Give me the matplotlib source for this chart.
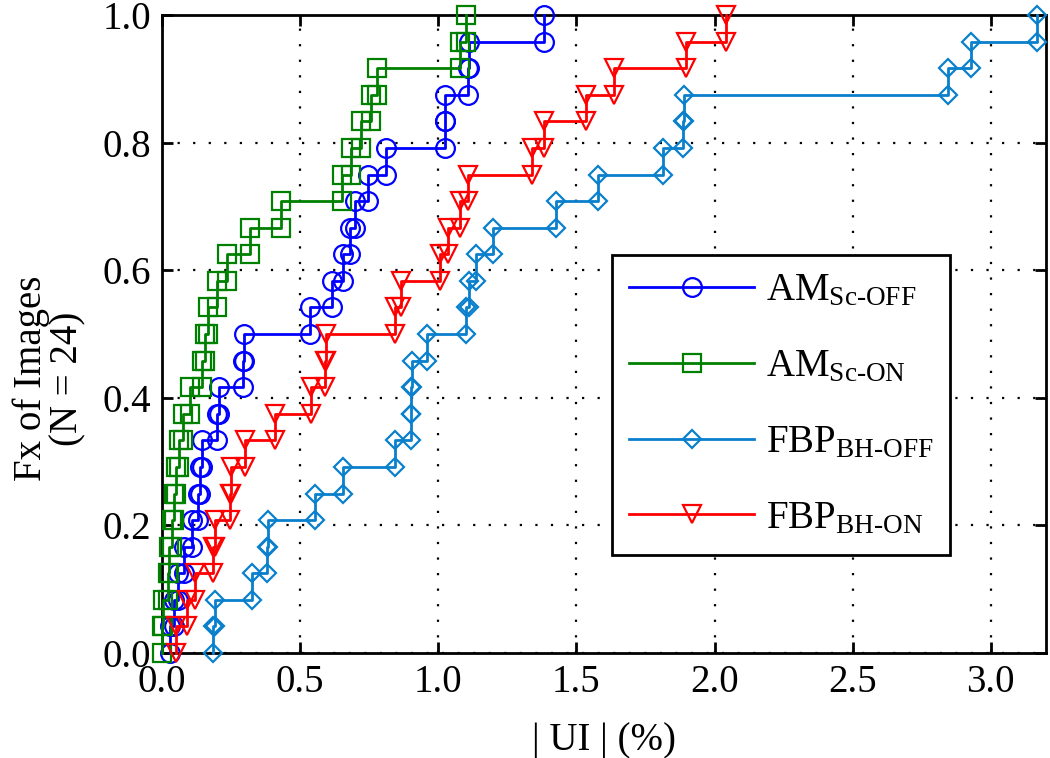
import matplotlib
matplotlib.use('Agg')
import matplotlib.pyplot as plt
import numpy as np

# sorted |UI| values (%) for the 24 images
am_sc_off  = [0.03, 0.045, 0.058, 0.08, 0.11, 0.13, 0.137, 0.143, 0.2, 0.205, 0.293, 0.297,
              0.535, 0.615, 0.655, 0.68, 0.70, 0.745, 0.81, 1.023, 1.025, 1.107, 1.113, 1.384]
am_sc_on   = [0.0, 0.005, 0.02, 0.025, 0.035, 0.045, 0.05, 0.06, 0.075, 0.1, 0.143, 0.155,
              0.165, 0.2, 0.235, 0.32, 0.43, 0.65, 0.685, 0.72, 0.755, 0.78, 1.077, 1.10]
fbp_bh_off = [0.186, 0.19, 0.324, 0.38, 0.385, 0.553, 0.654, 0.842, 0.9, 0.903, 0.906, 0.96,
              1.10, 1.11, 1.137, 1.197, 1.426, 1.577, 1.812, 1.885, 1.89, 2.845, 2.93, 3.167]
fbp_bh_on  = [0.05, 0.09, 0.12, 0.185, 0.19, 0.245, 0.25, 0.3, 0.408, 0.54, 0.59, 0.595,
              0.845, 0.866, 1.005, 1.034, 1.08, 1.107, 1.341, 1.384, 1.535, 1.637, 1.896, 2.04]

labels = [r'AM$_{\text{Sc-OFF}}$', r'AM$_{\text{Sc-ON}}$',
          r'FBP$_{\text{BH-OFF}}$', r'FBP$_{\text{BH-ON}}$']
x_ticks = [0.0, 0.5, 1.0, 1.5, 2.0, 2.5, 3.0]
y_ticks = [0.0, 0.2, 0.4, 0.6, 0.8, 1.0]

plt.rcParams['font.family'] = ['Liberation Serif', 'DejaVu Serif']
plt.rcParams['mathtext.fontset'] = 'custom'
plt.rcParams['mathtext.rm'] = 'Liberation Serif'
plt.rcParams['mathtext.it'] = 'Liberation Serif:italic'


def ecdf_stairs(vals):
    # vertices of a stairs ecdf line: (v1,0),(v1,1/n),(v2,1/n),(v2,2/n),...
    v = np.sort(np.asarray(vals, dtype=float))
    n = len(v)
    f = np.arange(n + 1) / n
    xs = np.repeat(v, 2)
    ys = np.empty(2 * n)
    ys[0::2] = f[:-1]
    ys[1::2] = f[1:]
    return xs, ys


fig = plt.figure(figsize=(10.5, 7.58), dpi=100)
ax = fig.add_axes([0.1543, 0.1385, 0.8419, 0.8417])

series = [am_sc_off, am_sc_on, fbp_bh_off, fbp_bh_on]
colors = ['#0000ff', '#008000', '#0a80cc', '#ff0000']
markers = ['o', 's', 'D', 'v']
msizes = [13.5, 13.5, 9, 12.5]

for vals, c, m, ms, lab in zip(series, colors, markers, msizes, labels):
    xs, ys = ecdf_stairs(vals)
    ax.plot(xs, ys, color=c, lw=2.0, marker=m, ms=ms, mfc='none', mec=c, mew=1.6,
            label=lab, clip_on=False, zorder=3)

ax.set_xlim(0, 3.2)
ax.set_ylim(0, 1.0)
ax.set_xticks(x_ticks)
ax.set_yticks(y_ticks)
ax.set_xticklabels(['%.1f' % t for t in x_ticks])
ax.set_yticklabels(['%.1f' % t for t in y_ticks])
ax.tick_params(direction='in', length=8, width=2, top=True, right=True, labelsize=28, pad=8)
for s in ax.spines.values():
    s.set_linewidth(2)
ax.grid(True, color='black', linestyle=(0, (1, 6)), linewidth=1.6, zorder=0)
ax.set_axisbelow(True)

ax.set_xlabel('| UI | (%)', fontsize=28, labelpad=15)
ax.set_ylabel('Fx of Images\n(N = 24)', fontsize=28, linespacing=1.0)
ax.yaxis.set_label_coords(-0.085, 0.43)

leg = ax.legend(loc='upper left', bbox_to_anchor=(0.509, 0.624), fontsize=28, handlelength=3.2,
                labelspacing=1.0, borderpad=0.45, borderaxespad=0, handletextpad=0.3,
                fancybox=False, framealpha=1, edgecolor='black')
leg.get_frame().set_linewidth(2)
for h in leg.legend_handles:
    h.set_clip_on(True)

fig.savefig('out.png', dpi=100)
